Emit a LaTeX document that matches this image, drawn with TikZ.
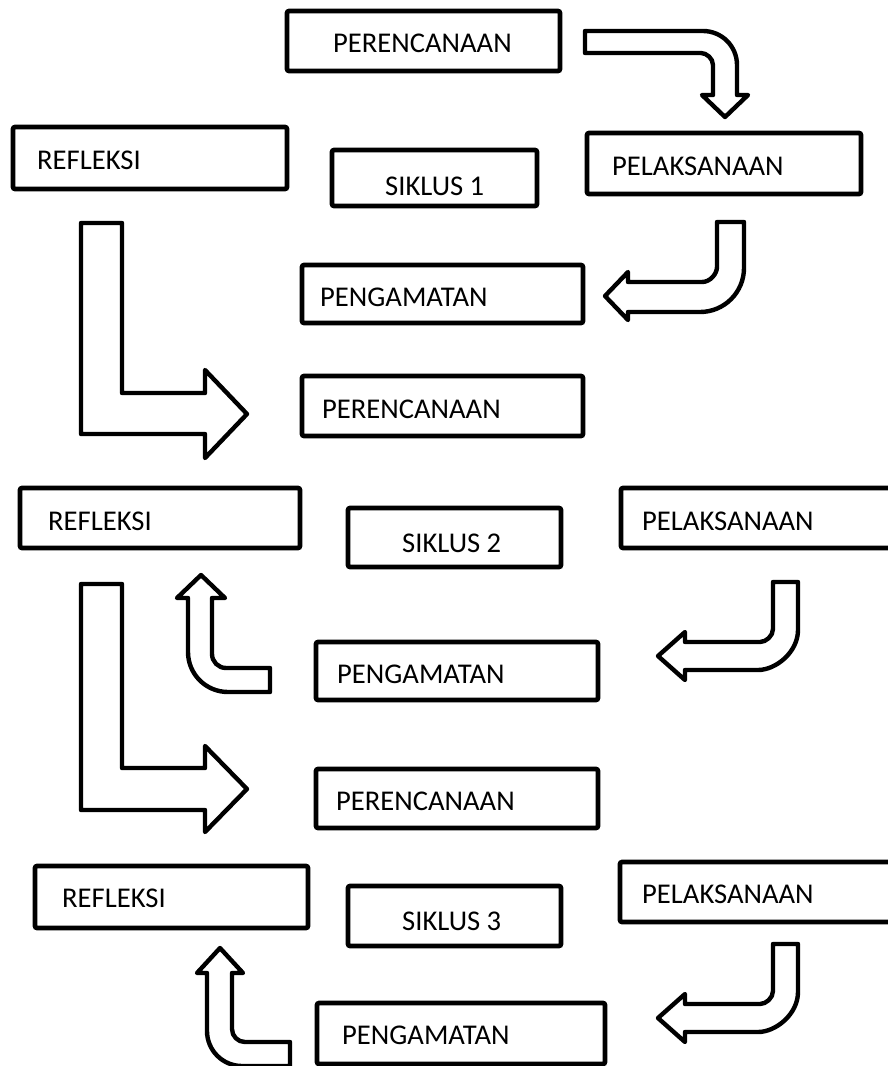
\documentclass[tikz,border=0pt]{standalone}
\usepackage{fontspec}
\setmainfont{Carlito}
\begin{document}
\begin{tikzpicture}[x=1pt,y=-1pt,
  box/.style={draw,line width=4.6pt,rounded corners=2pt,inner sep=0pt,fill=white},
  lbl/.style={anchor=west,inner sep=0pt,font=\fontsize{28.6}{34}\selectfont},
  blockarrow/.style={draw,line width=4.4pt,line join=round,fill=white}]
\useasboundingbox (0,0) rectangle (888,1066);

% boxes
\node[box,minimum width=273pt,minimum height=60pt] (b1) at (423.5,41) {};
\node[box,minimum width=274pt,minimum height=62pt] (b2) at (150,158) {};
\node[box,minimum width=205pt,minimum height=56pt] (b3) at (434.5,178) {};
\node[box,minimum width=274pt,minimum height=61pt] (b4) at (724,163.5) {};
\node[box,minimum width=281pt,minimum height=58pt] (b5) at (442.5,294) {};
\node[box,minimum width=281pt,minimum height=60pt] (b6) at (442.5,406) {};
\node[box,minimum width=280pt,minimum height=60pt] (b7) at (160,518) {};
\node[box,minimum width=213pt,minimum height=59pt] (b8) at (454.5,537.5) {};
\node[box,minimum width=271pt,minimum height=60pt] (b9) at (756.5,518) {};
\node[box,minimum width=282pt,minimum height=58pt] (b10) at (457,671) {};
\node[box,minimum width=282pt,minimum height=59pt] (b11) at (457,798.5) {};
\node[box,minimum width=273pt,minimum height=62pt] (b12) at (171.5,897) {};
\node[box,minimum width=213pt,minimum height=60pt] (b13) at (454.5,916) {};
\node[box,minimum width=272pt,minimum height=60pt] (b14) at (756,892) {};
\node[box,minimum width=288pt,minimum height=61pt] (b15) at (461,1033.5) {};

% labels
\node[lbl] (t1) at (333,43) {PERENCANAAN};
\node[lbl] (t2) at (37,160) {REFLEKSI};
\node[lbl] (t3) at (385,186) {SIKLUS 1};
\node[lbl] (t4) at (612,166) {PELAKSANAAN};
\node[lbl] (t5) at (320,297) {PENGAMATAN};
\node[lbl] (t6) at (322,409) {PERENCANAAN};
\node[lbl] (t7) at (48,521) {REFLEKSI};
\node[lbl] (t8) at (402,543) {SIKLUS 2};
\node[lbl] (t9) at (642,521) {PELAKSANAAN};
\node[lbl] (t10) at (337,674) {PENGAMATAN};
\node[lbl] (t11) at (336,801) {PERENCANAAN};
\node[lbl] (t12) at (62,898) {REFLEKSI};
\node[lbl] (t13) at (402,921) {SIKLUS 3};
\node[lbl] (t14) at (642,894) {PELAKSANAAN};
\node[lbl] (t15) at (342,1035) {PENGAMATAN};

% block arrows
% A: right then down
\draw[blockarrow] (585,31) -- (703,31) .. controls (721.8,31) and (737,46.2) .. (737,65)
  -- (737,95) -- (748,95) -- (725,117) -- (702,95) -- (713,95) -- (713,65)
  .. controls (713,58.4) and (706.4,53) .. (701,53) -- (585,53) -- cycle;
% B: down then left
\draw[blockarrow] (717,222) -- (744,222) -- (744,268)
  .. controls (744,292.3) and (724.3,312) .. (700,312)
  -- (628,312) -- (628,320) -- (605,296) -- (628,272) -- (628,282) -- (702,282)
  .. controls (710.3,282) and (717,273.7) .. (717,267) -- cycle;
% C: L-shaped
\draw[blockarrow] (81,223) -- (122,223) -- (122,393) -- (205,393) -- (205,370)
  -- (247,414) -- (205,458) -- (205,434) -- (81,434) -- cycle;
% D: L-shaped
\draw[blockarrow] (81,584) -- (122,584) -- (122,768) -- (205,768) -- (205,746)
  -- (247,789) -- (205,832) -- (205,810) -- (81,810) -- cycle;
% E: up arrow with bend
\draw[blockarrow] (201,575) -- (225,598) -- (212,598) -- (212,654)
  .. controls (212,661.7) and (218.3,668) .. (226,668) -- (270,668) -- (270,692)
  -- (228,692) .. controls (205.9,692) and (188,674.1) .. (188,652)
  -- (188,598) -- (177,598) -- cycle;
% F: down then left
\draw[blockarrow] (773,582) -- (798,582) -- (798,630)
  .. controls (798,652.1) and (775.9,670) .. (758,670)
  -- (685,670) -- (685,680) -- (658,656) -- (685,632) -- (685,642) -- (760,642)
  .. controls (765.8,642) and (773,636.2) .. (773,629) -- cycle;
% G: down then left
\draw[blockarrow] (773,944) -- (798,944) -- (798,992)
  .. controls (798,1014.1) and (775.9,1032) .. (758,1032)
  -- (685,1032) -- (685,1042) -- (658,1018) -- (685,994) -- (685,1004) -- (760,1004)
  .. controls (765.8,1004) and (773,998.2) .. (773,991) -- cycle;
% H: up arrow with bend
\draw[blockarrow] (220,948) -- (243,973) -- (232,973) -- (232,1029)
  .. controls (232,1036.2) and (237.8,1042) .. (245,1042) -- (290,1042) -- (290,1066)
  -- (242,1066) .. controls (222.7,1066) and (207,1050.3) .. (207,1031)
  -- (207,973) -- (197,973) -- cycle;
\end{tikzpicture}
\end{document}
